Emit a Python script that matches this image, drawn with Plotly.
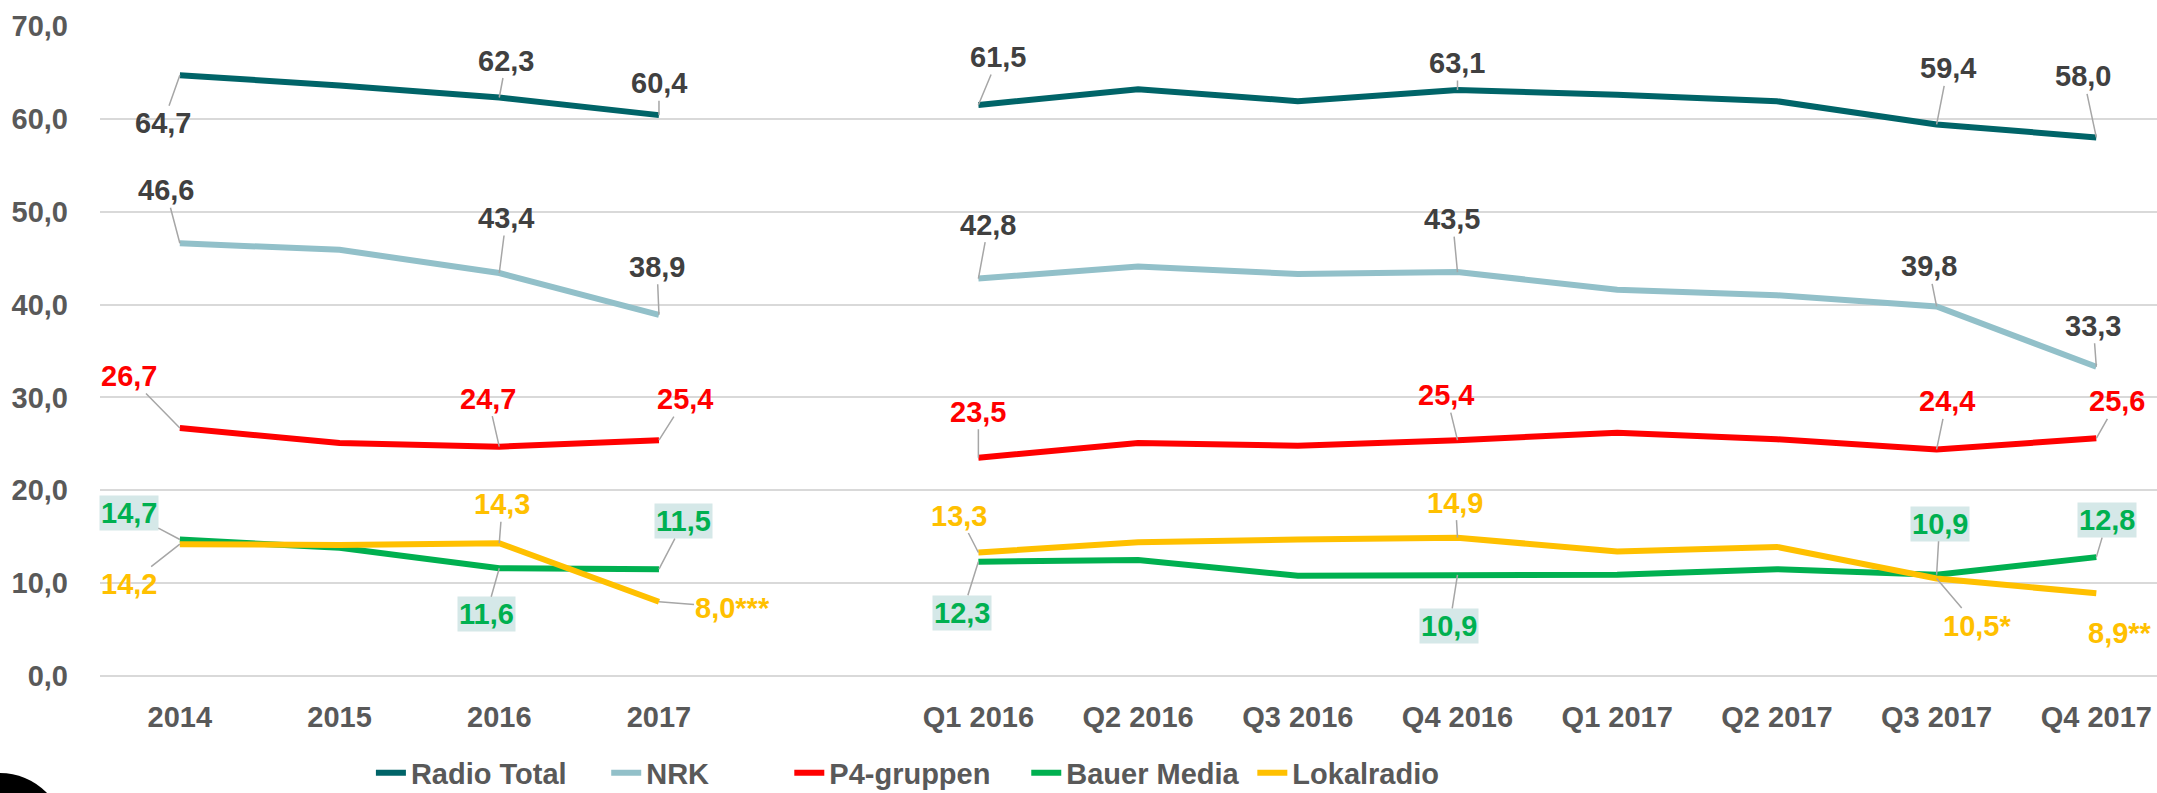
import plotly.graph_objects as go

# ---------------- data ----------------
years = ["2014", "2015", "2016", "2017"]
quarters = ["Q1 2016", "Q2 2016", "Q3 2016", "Q4 2016",
            "Q1 2017", "Q2 2017", "Q3 2017", "Q4 2017"]
gap = " "

radio_annual = [64.7, 63.6, 62.3, 60.4]
radio_quarter = [61.5, 63.2, 61.9, 63.1, 62.6, 61.9, 59.4, 58.0]
nrk_annual = [46.6, 45.9, 43.4, 38.9]
nrk_quarter = [42.8, 44.1, 43.3, 43.5, 41.6, 41.0, 39.8, 33.3]
p4_annual = [26.7, 25.1, 24.7, 25.4]
p4_quarter = [23.5, 25.1, 24.8, 25.4, 26.2, 25.5, 24.4, 25.6]
bauer_annual = [14.7, 13.8, 11.6, 11.5]
bauer_quarter = [12.3, 12.5, 10.8, 10.9, 10.9, 11.5, 10.9, 12.8]
lokal_annual = [14.2, 14.1, 14.3, 8.0]
lokal_quarter = [13.3, 14.4, 14.7, 14.9, 13.4, 13.9, 10.5, 8.9]

series_names = ["Radio Total", "NRK", "P4-gruppen", "Bauer Media", "Lokalradio"]
y_ticks = [0, 10, 20, 30, 40, 50, 60, 70]

# ---------------- styling ----------------
FONT = "Liberation Sans, Arial, sans-serif"
FS = 29
GRAY = "#595959"
colors = ["#006468", "#92C0C9", "#FF0000", "#00B050", "#FFC000"]
label_colors = ["#404040", "#404040", "#FF0000", "#00B050", "#FFC000"]
label_bg = [None, None, None, "#D5E8E8", None]
legend_x = [0.1317, 0.2461, 0.3351, 0.4503, 0.5602]

# label offsets (index in full category list, dx, dy, suffix)
label_style = [
    [(0, -17, 48, ""), (2, 7, -37, ""), (3, 0, -32, ""), (5, 20, -48, ""),
     (8, 0, -27, ""), (11, 11, -56, ""), (12, -13, -61, "")],
    [(0, -14, -53, ""), (2, 7, -55, ""), (3, -2, -48, ""), (5, 10, -54, ""),
     (8, -5, -53, ""), (11, -8, -40, ""), (12, -3, -41, "")],
    [(0, -51, -52, ""), (2, -11, -48, ""), (3, 26, -41, ""), (5, 0, -46, ""),
     (8, -11, -45, ""), (11, 10, -48, ""), (12, 21, -37, "")],
    [(0, -51, -27, ""), (2, -13, 46, ""), (3, 25, -48, ""), (5, -16, 51, ""),
     (8, -8, 51, ""), (11, 3, -51, ""), (12, 11, -37, "")],
    [(0, -51, 40, ""), (2, 3, -39, ""), (3, 74, 6, "***"), (5, -19, -37, ""),
     (8, -2, -35, ""), (11, 40, 47, "*"), (12, 24, 40, "**")],
]

categories = years + [gap] + quarters
all_series = [
    radio_annual + [None] + radio_quarter,
    nrk_annual + [None] + nrk_quarter,
    p4_annual + [None] + p4_quarter,
    bauer_annual + [None] + bauer_quarter,
    lokal_annual + [None] + lokal_quarter,
]

fig = go.Figure()
legend_names = ["legend"] + [f"legend{i}" for i in range(2, 6)]
for name, vals, col, lg in zip(series_names, all_series, colors, legend_names):
    fig.add_trace(go.Scatter(
        x=categories, y=vals, name=name, mode="lines",
        line=dict(color=col, width=6), connectgaps=False, legend=lg,
    ))

def fmt(v):
    return f"{v:.1f}".replace(".", ",")

annotations = []
for s, vals in enumerate(all_series):
    for idx, dx, dy, suf in label_style[s]:
        v = vals[idx]
        a = dict(
            x=idx, y=v, xref="x", yref="y",
            text=fmt(v) + suf, showarrow=True, arrowhead=0,
            arrowwidth=1.5, arrowcolor="#A6A6A6", ax=dx, ay=dy,
            standoff=0, startstandoff=0,
            font=dict(family=FONT, size=FS, color=label_colors[s], weight="bold"),
            borderpad=1,
        )
        if label_bg[s]:
            a["bgcolor"] = label_bg[s]
        annotations.append(a)

legend_font = dict(family=FONT, size=FS, color=GRAY, weight="bold")
layout_legends = {}
for lg, lx in zip(legend_names, legend_x):
    layout_legends[lg] = dict(orientation="h", x=lx, xanchor="left", y=-0.149,
                              yanchor="middle", font=legend_font,
                              bgcolor="rgba(0,0,0,0)", itemwidth=30)

fig.update_layout(
    width=2157, height=793,
    margin=dict(l=100, r=0, t=26, b=117, autoexpand=False),
    paper_bgcolor="white", plot_bgcolor="white",
    separators=", ",
    font=dict(family=FONT, size=FS, color=GRAY, weight="bold"),
    showlegend=True,
    annotations=annotations,
    shapes=[dict(type="circle", xref="paper", yref="paper",
                 x0=-0.0802, x1=-0.017, y0=-0.349, y1=-0.1492,
                 fillcolor="black", line=dict(width=0))],
    **layout_legends,
)
fig.update_xaxes(
    type="category", categoryorder="array", categoryarray=categories,
    range=[-0.5, 12.38], showgrid=False, showline=False, zeroline=False,
    ticks="", ticklabelstandoff=21,
    tickfont=dict(family=FONT, size=FS, color=GRAY, weight="bold"),
)
fig.update_yaxes(
    range=[0, 70], tickvals=y_ticks, tickformat=".1f",
    showgrid=True, gridcolor="#D9D9D9", gridwidth=2,
    zeroline=True, zerolinecolor="#D9D9D9", zerolinewidth=2,
    showline=False, ticks="", ticklabelstandoff=31,
    tickfont=dict(family=FONT, size=FS, color=GRAY, weight="bold"),
)

fig.write_html("out.html",
               config={"displayModeBar": False},
               post_script="document.body.style.margin='0';document.body.style.overflow='hidden';")
